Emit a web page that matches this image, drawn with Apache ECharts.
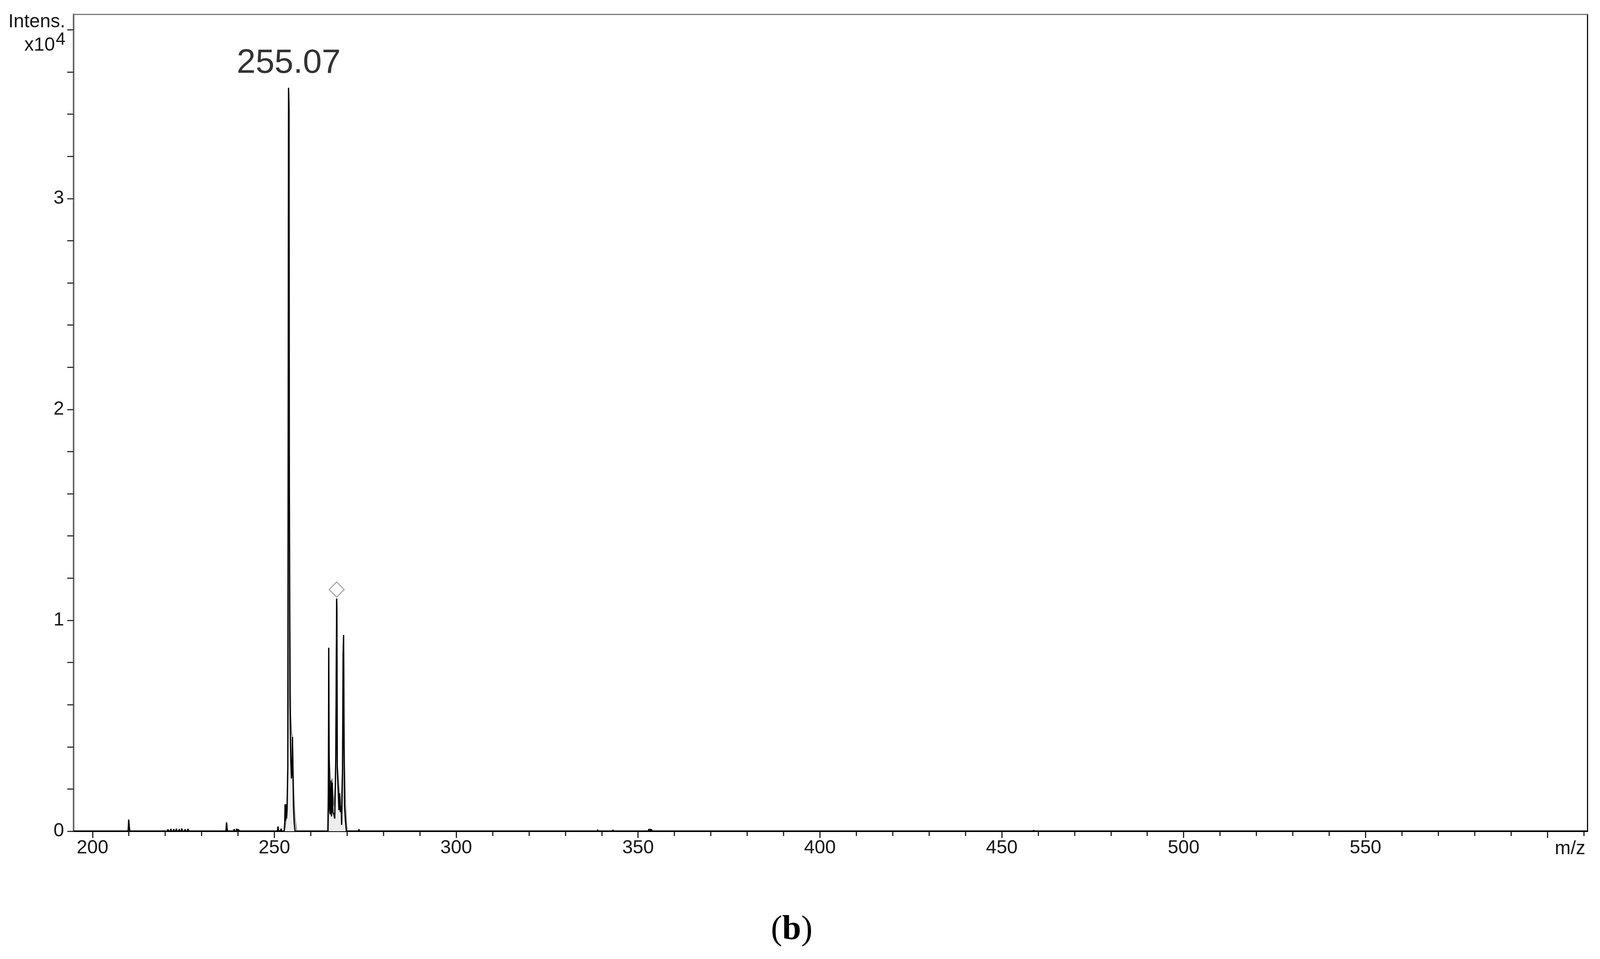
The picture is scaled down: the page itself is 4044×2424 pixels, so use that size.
<!DOCTYPE html>
<html>
<head>
<meta charset="utf-8">
<script src="https://cdn.jsdelivr.net/npm/echarts@6/dist/echarts.min.js"></script>
<style>
html,body{margin:0;padding:0;background:#fff;}
#chart{width:4044px;height:2424px;}
</style>
</head>
<body>
<div id="chart"></div>
<script>
// ---- data (intensity in units of 10^4) ----
const mzRange = [194.8, 611.0];
const intensRange = [0, 3.874];

const xMajorTicks = [200, 250, 300, 350, 400, 450, 500, 550, 600];
const xTickLabels = [200, 250, 300, 350, 400, 450, 500, 550];
const xMinorTicks = [210,220,230,240,260,270,280,290,310,320,330,340,360,370,380,390,410,420,430,440,460,470,480,490,510,520,530,540,560,570,580,590,610];
const yTicks = [0,0.2,0.4,0.6,0.8,1,1.2,1.4,1.6,1.8,2,2.2,2.4,2.6,2.8,3,3.2,3.4,3.6,3.8];
const yTickLabels = [0, 1, 2, 3];

// low-level noise peaks
const noisePeaks = [
  [194.8,0],
  [209.8,0],[209.95,0.055],[210.1,0.025],[210.2,0.008],[210.35,0],
  [220.6,0],[220.75,0.009],[220.9,0],
  [221.4,0],[221.55,0.011],[221.7,0],
  [222.2,0],[222.35,0.01],[222.5,0],
  [222.9,0],[223.05,0.012],[223.2,0],
  [223.7,0],[223.85,0.01],[224.0,0],
  [224.4,0],[224.55,0.013],[224.7,0],
  [225.3,0],[225.45,0.009],[225.6,0],
  [226.1,0],[226.25,0.011],[226.4,0],
  [236.7,0],[236.85,0.042],[237.0,0.015],[237.15,0],
  [238.8,0],[238.95,0.01],[239.1,0],
  [239.5,0],[239.65,0.012],[239.8,0],
  [240.0,0],[240.15,0.009],[240.3,0],
  [250.85,0],[251.0,0.022],[251.15,0.004],[251.7,0],[251.85,0.012],[252.0,0]
];
// base peak cluster around 254
const mainPeak = [
  [252.7,0],[252.85,0.04],[252.95,0.128],[253.1,0.05],[253.2,0.128],[253.35,0.06],[253.5,0.1],[253.7,0.31],
  [253.9,3.525],[253.97,3.48],[254.04,3.41],[254.1,1.8],[254.18,1.3],[254.3,0.62],[254.5,0.35],
  [254.7,0.25],[254.85,0.3],[254.98,0.447],[255.1,0.3],[255.25,0.12],[255.45,0.04],[255.7,0]
];
// isotope-like cluster around 265-269
const secondCluster = [
  [264.75,0],[264.85,0.12],[264.95,0.87],[265.05,0.38],[265.2,0.1],[265.35,0.08],[265.55,0.24],[265.7,0.07],
  [265.9,0.23],[266.1,0.09],[266.35,0.08],[266.6,0.06],[266.9,0.35],[267.13,1.103],[267.2,1.04],[267.3,0.3],
  [267.55,0.2],[267.75,0.1],[267.95,0.18],[268.15,0.09],[268.35,0.12],[268.5,0.03],[268.75,0.3],[268.9,0.84],
  [269.04,0.93],[269.15,0.4],[269.3,0.12],[269.55,0.05],[269.8,0]
];
const highMassNoise = [
  [273.15,0],[273.25,0.01],[273.35,0],
  [338.8,0],[338.9,0.008],[339.0,0],
  [343.0,0],[343.1,0.007],[343.2,0],
  [352.8,0],[352.95,0.01],[353.1,0],[353.3,0.011],[353.45,0],[353.7,0.009],[353.85,0],
  [458.7,0],[458.8,0.005],[458.9,0],
  [611.0,0]
];
// grey compound profile envelope
const envelopeMain = [
  [252.6,0],[253.0,0.02],[253.45,0.09],[253.7,0.31],[253.85,0.6],[253.9,3.525],[254.04,3.4],[254.2,1.2],
  [254.5,0.55],[254.8,0.46],[254.98,0.447],[255.3,0.2],[255.7,0.06],[256.2,0]
];
const envelopeCluster = [
  [264.6,0],[264.85,0.28],[264.95,0.87],[265.1,0.35],[265.5,0.22],[265.9,0.25],[266.3,0.12],[266.8,0.22],
  [267.13,1.103],[267.3,0.32],[267.8,0.2],[268.3,0.1],[268.7,0.28],[269.04,0.93],[269.3,0.32],[269.6,0.12],[270.0,0]
];
const peakLabels = [[253.94, 3.525, '255.07']];
const compoundMarker = [[267.13, 1.146]];

// ---- build ----
const spectrum = noisePeaks.concat(mainPeak, secondCluster, highMassNoise);
const envelope = envelopeMain.concat(envelopeCluster);
const FONT = '"Liberation Sans", Arial, sans-serif';
const txt = '#141414';

const chart = echarts.init(document.getElementById('chart'), null, {renderer: 'canvas'});
chart.setOption({
  animation: false,
  backgroundColor: '#ffffff',
  grid: {left: 186, right: 32, top: 36, bottom: 323, containLabel: false},
  xAxis: [
    {
      type: 'value', position: 'bottom', min: mzRange[0], max: mzRange[1],
      axisLine: {show: true, onZero: false, lineStyle: {color: '#000', width: 4}},
      axisTick: {show: true, customValues: xMajorTicks, length: 17, lineStyle: {color: '#222', width: 3}},
      axisLabel: {show: true, customValues: xTickLabels, fontSize: 48, fontFamily: FONT, color: txt, margin: 19},
      splitLine: {show: false}
    },
    {
      type: 'value', position: 'bottom', min: mzRange[0], max: mzRange[1],
      axisLine: {show: false, onZero: false},
      axisTick: {show: true, customValues: xMinorTicks, length: 12, lineStyle: {color: '#222', width: 3}},
      axisLabel: {show: false},
      splitLine: {show: false}
    },
    {
      type: 'value', position: 'top', min: mzRange[0], max: mzRange[1],
      axisLine: {show: true, onZero: false, lineStyle: {color: '#7a7a7a', width: 3}},
      axisTick: {show: false}, axisLabel: {show: false}, splitLine: {show: false}
    }
  ],
  yAxis: [
    {
      type: 'value', position: 'left', min: intensRange[0], max: intensRange[1],
      axisLine: {show: true, onZero: false, lineStyle: {color: '#666', width: 4}},
      axisTick: {show: true, customValues: yTicks, length: 16, lineStyle: {color: '#333', width: 3}},
      axisLabel: {show: true, customValues: yTickLabels, fontSize: 48, fontFamily: FONT, color: txt, margin: 24},
      splitLine: {show: false}
    },
    {
      type: 'value', position: 'right', min: intensRange[0], max: intensRange[1],
      axisLine: {show: true, onZero: false, lineStyle: {color: '#111', width: 3}},
      axisTick: {show: false}, axisLabel: {show: false}, splitLine: {show: false}
    }
  ],
  series: [
    {
      name: 'envelope', type: 'line', xAxisIndex: 0, yAxisIndex: 0,
      data: envelope, symbol: 'none', smooth: false, z: 2,
      lineStyle: {color: '#8c8c8c', width: 2.5},
      areaStyle: {color: '#eeeeee', opacity: 1}
    },
    {
      name: 'spectrum', type: 'line', xAxisIndex: 0, yAxisIndex: 0,
      data: spectrum, symbol: 'none', smooth: false, z: 3,
      lineStyle: {color: '#000', width: 3.2}
    },
    {
      name: 'peakLabel', type: 'scatter', xAxisIndex: 0, yAxisIndex: 0,
      data: peakLabels, symbolSize: 0, z: 4,
      label: {show: true, position: 'top', distance: 18, formatter: p => p.data[2],
              fontSize: 86, fontFamily: FONT, color: '#000'}
    },
    {
      name: 'compound', type: 'scatter', xAxisIndex: 0, yAxisIndex: 0,
      data: compoundMarker, symbol: 'diamond', symbolSize: [38, 38], z: 4,
      itemStyle: {color: '#ffffff', borderColor: '#8a8a8a', borderWidth: 2.5}
    }
  ],
  graphic: [
    {type: 'text', style: {x: 165, y: 56, text: 'Intens.', font: '48px ' + FONT, fill: txt, align: 'right', verticalAlign: 'middle'}},
    {type: 'text', style: {x: 139, y: 115, text: 'x10', font: '48px ' + FONT, fill: txt, align: 'right', verticalAlign: 'middle'}},
    {type: 'text', style: {x: 141, y: 101, text: '4', font: '44px ' + FONT, fill: txt, align: 'left', verticalAlign: 'middle'}},
    {type: 'text', style: {x: 4007, y: 2146, text: 'm/z', font: '48px ' + FONT, fill: txt, align: 'right', verticalAlign: 'middle'}},
    {type: 'text', style: {x: 2001, y: 2351, text: '{p|(}{b|b}{p|)}', align: 'center', verticalAlign: 'middle',
      rich: {
        p: {fontSize: 86, fontFamily: '"Liberation Serif", "DejaVu Serif", serif', fill: '#000', color: '#000'},
        b: {fontSize: 86, fontWeight: 'bold', fontFamily: '"Liberation Serif", "DejaVu Serif", serif', fill: '#000', color: '#000'}
      }}}
  ]
});
</script>
</body>
</html>
